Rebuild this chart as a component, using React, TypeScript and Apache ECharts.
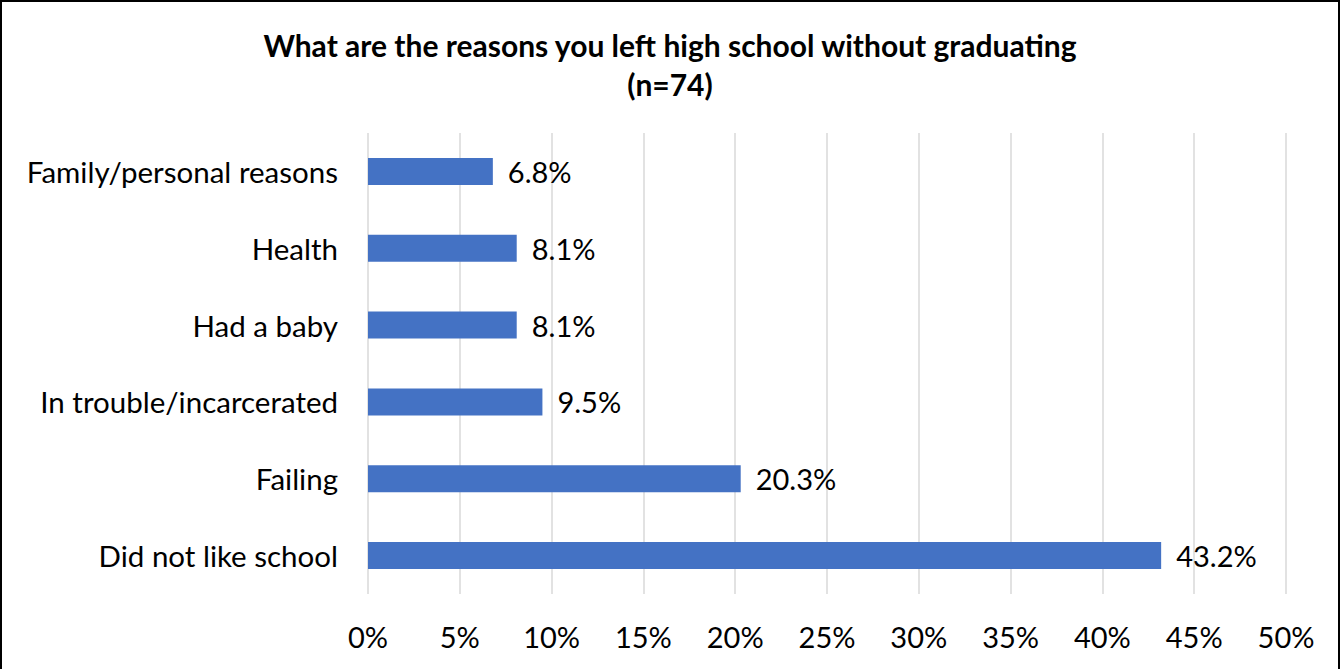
import React, { useEffect, useRef } from "react";
import * as echarts from "echarts";

const titleLines = ["What are the reasons you left high school without graduating", "(n=74)"];
const categories = [
  "Did not like school",
  "Failing",
  "In trouble/incarcerated",
  "Had a baby",
  "Health",
  "Family/personal reasons",
];
const values = [43.2, 20.3, 9.5, 8.1, 8.1, 6.8];
const xTicks = { min: 0, max: 50, interval: 5 };

const FONT = "Lato";

export default function App() {
  const ref = useRef<HTMLDivElement>(null);
  useEffect(() => {
    document.body.style.margin = "0";
    const chart = echarts.init(ref.current!, null, { renderer: "svg" });
    chart.setOption({
      animation: false,
      textStyle: { fontFamily: FONT },
      title: {
        text: titleLines.join("\n"),
        left: "center",
        top: 18,
        textStyle: {
          fontFamily: FONT,
          fontWeight: "bold",
          fontSize: 30,
          lineHeight: 39,
          color: "#000",
        },
      },
      grid: { left: 366, right: 52, top: 131, bottom: 75 },
      xAxis: {
        type: "value",
        min: xTicks.min,
        max: xTicks.max,
        interval: xTicks.interval,
        axisLine: { show: false },
        axisTick: { show: false },
        splitLine: { show: true, lineStyle: { color: "#d9d9d9", width: 1.5 } },
        axisLabel: {
          formatter: (v: number) => `${v}%`,
          fontFamily: FONT,
          fontSize: 29,
          color: "#000",
          margin: 28,
        },
      },
      yAxis: {
        type: "category",
        data: categories,
        axisLine: { show: false },
        axisTick: { show: false },
        splitLine: { show: false },
        axisLabel: {
          fontFamily: FONT,
          fontSize: 29.5,
          color: "#000",
          margin: 30,
        },
      },
      series: [
        {
          type: "bar",
          data: values,
          barWidth: 27,
          itemStyle: { color: "#4472C4" },
          label: {
            show: true,
            position: "right",
            distance: 15,
            formatter: (p: any) => `${p.value.toFixed(1)}%`,
            fontFamily: FONT,
            fontSize: 29,
            color: "#000",
          },
        },
      ],
    });
    return () => chart.dispose();
  }, []);
  return (
    <div
      style={{
        width: 1340,
        height: 669,
        boxSizing: "border-box",
        borderLeft: "2px solid #000",
        borderTop: "2px solid #000",
        borderRight: "2px solid #000",
        background: "#fff",
      }}
    >
      <div ref={ref} style={{ width: 1336, height: 667 }} />
    </div>
  );
}
